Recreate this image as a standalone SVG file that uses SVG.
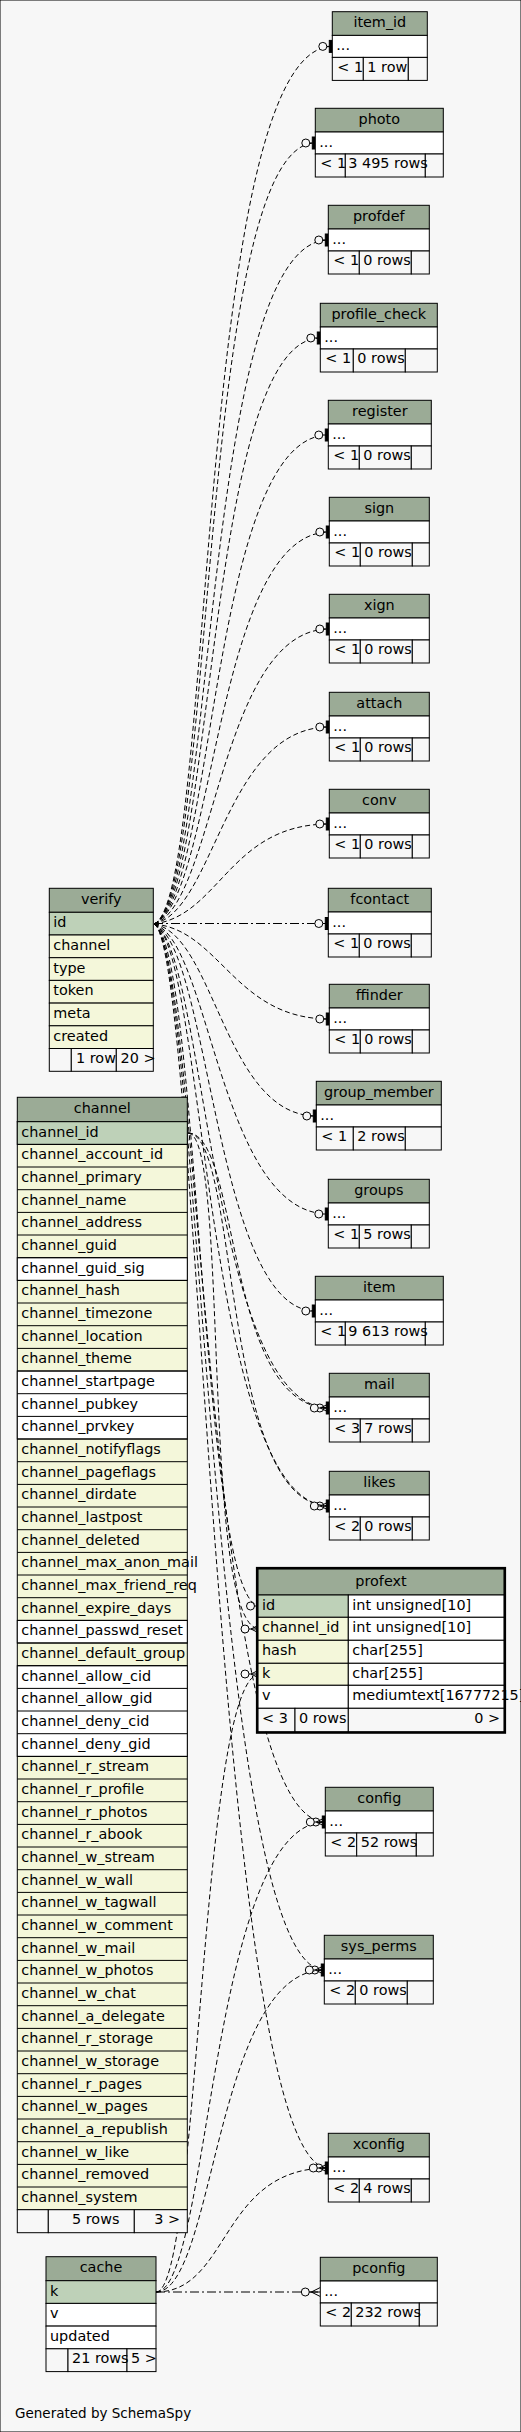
<svg xmlns="http://www.w3.org/2000/svg" width="521" height="2432" viewBox="0 0 521 2432">
<style>
text{font-family:"DejaVu Sans","Liberation Sans",sans-serif;font-size:14.4px;fill:#000}
.h{text-anchor:middle}
.e{text-anchor:end}
rect{stroke:#000;stroke-width:1}
.hd{fill:#9bab96}.pk{fill:#bed1b8}.ix{fill:#f4f7da}.pl{fill:#fff}.ft{fill:#f7f7f7}
.bold{fill:none;stroke-width:2.2}
.edge{fill:none;stroke:#000;stroke-width:1;stroke-dasharray:5,3}
.dd{fill:none;stroke:#000;stroke-width:1;stroke-dasharray:9,3,2,3}
.one{marker-end:url(#one)}.many{marker-end:url(#many)}
</style>
<defs>
<marker id="one" markerUnits="userSpaceOnUse" viewBox="-16 -8 17 16" refX="0" refY="0" markerWidth="17" markerHeight="16" orient="auto" overflow="visible">
<circle cx="-9.5" cy="0" r="4" fill="#f7f7f7" stroke="#000" stroke-width="1"/>
<line x1="-5.5" y1="0" x2="-3" y2="0" stroke="#000" stroke-width="1"/>
<rect x="-3" y="-6" width="3" height="12" fill="#000" stroke="none"/>
</marker>
<marker id="many" markerUnits="userSpaceOnUse" viewBox="-21 -8 22 16" refX="0" refY="0" markerWidth="22" markerHeight="16" orient="auto" overflow="visible">
<circle cx="-15" cy="0" r="4" fill="#f7f7f7" stroke="#000" stroke-width="1"/>
<path d="M-11,0H0M-9,0L0,-4.5M-9,0L0,4.5" fill="none" stroke="#000" stroke-width="1"/>
</marker>
</defs>
<rect x="0" y="0" width="521" height="2432" fill="#f7f7f7" stroke="none"/>

<g id="connectors">
<path class="edge one" d="M154,924 C215,900 195,46.4 332.3,46.4"/>
<path class="edge one" d="M154,924 C215,900 198,143 315.3,143"/>
<path class="edge one" d="M154,924 C215,900 202,240 328.3,240"/>
<path class="edge one" d="M154,924 C215,900 206,338 320.3,338"/>
<path class="edge one" d="M154,924 C215,900 210,435 328.3,435"/>
<path class="edge one" d="M154,924 C215,900 215,532 329.3,532"/>
<path class="edge one" d="M154,924 C215,905 220,629 329.3,629"/>
<path class="edge one" d="M154,924 C215,910 225,727 329.3,727"/>
<path class="edge one" d="M154,924 C220,915 230,824 329.3,824"/>
<path class="dd one" d="M154,923.5 L328.3,923.5"/>
<path class="edge one" d="M154,924 C220,930 235,1019 329.3,1019"/>
<path class="edge one" d="M154,924 C215,935 225,1116 316.3,1116"/>
<path class="edge one" d="M154,924 C210,940 220,1214 328.3,1214"/>
<path class="edge one" d="M154,924 C210,945 215,1311 315.3,1311"/>
<path class="edge one" d="M154,924 C205,945 210,1408 329.3,1408"/>
<path class="edge one" d="M154,924 C205,945 205,1506 329.3,1506"/>
<path class="edge one" d="M154,924 C200,945 200,1606 260,1606"/>
<path class="edge one" d="M154,924 C200,945 205,1822 325.3,1822"/>
<path class="edge one" d="M154,924 C200,945 210,1970 324.3,1970"/>
<path class="edge one" d="M154,924 C200,945 215,2168 328.3,2168"/>
<path class="edge many" d="M188,1133 C230,1133 200,1629 260,1629"/>
<path class="edge many" d="M188,1133 C240,1133 225,1408 329.3,1408"/>
<path class="edge many" d="M188,1133 C240,1133 220,1506 329.3,1506"/>
<path class="dd many" d="M156,2292 L320.3,2292"/>
<path class="edge many" d="M156,2292 C230,2292 220,2168 328.3,2168"/>
<path class="edge many" d="M156,2292 C215,2292 215,1970 324.3,1970"/>
<path class="edge many" d="M156,2292 C210,2292 210,1822 325.3,1822"/>
<path class="edge many" d="M156,2292 C200,2292 200,1674 260,1674"/>
</g>

<g id="item_id" transform="translate(332.3,11.7)">
<rect class="hd" width="95" height="23.7"/><text class="h" x="47.5" y="15.5">item_id</text>
<rect class="pl" y="23.7" width="95" height="22"/><text x="4" y="38.5">...</text>
<rect class="ft" y="45.7" width="31" height="23"/><rect class="ft" x="31" y="45.7" width="45" height="23"/><rect class="ft" x="76" y="45.7" width="19" height="23"/>
<text x="5" y="60.2">&lt; 1</text><text x="35" y="60.2">1 row</text>
</g>
<g id="photo" transform="translate(315.3,108.3)">
<rect class="hd" width="128" height="23.7"/><text class="h" x="64" y="15.5">photo</text>
<rect class="pl" y="23.7" width="128" height="22"/><text x="4" y="38.5">...</text>
<rect class="ft" y="45.7" width="30" height="23"/><rect class="ft" x="30" y="45.7" width="80" height="23"/><rect class="ft" x="110" y="45.7" width="18" height="23"/>
<text x="5" y="60.2">&lt; 1</text><text x="33" y="60.2">3 495 rows</text>
</g>
<g id="profdef" transform="translate(328.3,205.3)">
<rect class="hd" width="101" height="23.7"/><text class="h" x="50.5" y="15.5">profdef</text>
<rect class="pl" y="23.7" width="101" height="22"/><text x="4" y="38.5">...</text>
<rect class="ft" y="45.7" width="31" height="23"/><rect class="ft" x="31" y="45.7" width="52" height="23"/><rect class="ft" x="83" y="45.7" width="18" height="23"/>
<text x="5" y="60.2">&lt; 1</text><text x="35" y="60.2">0 rows</text>
</g>
<g id="profile_check" transform="translate(320.3,303.3)">
<rect class="hd" width="117" height="23.7"/><text class="h" x="58.5" y="15.5">profile_check</text>
<rect class="pl" y="23.7" width="117" height="22"/><text x="4" y="38.5">...</text>
<rect class="ft" y="45.7" width="33" height="23"/><rect class="ft" x="33" y="45.7" width="52" height="23"/><rect class="ft" x="85" y="45.7" width="32" height="23"/>
<text x="5" y="60.2">&lt; 1</text><text x="37" y="60.2">0 rows</text>
</g>
<g id="register" transform="translate(328.3,400.3)">
<rect class="hd" width="103" height="23.7"/><text class="h" x="51.5" y="15.5">register</text>
<rect class="pl" y="23.7" width="103" height="22"/><text x="4" y="38.5">...</text>
<rect class="ft" y="45.7" width="31" height="23"/><rect class="ft" x="31" y="45.7" width="52" height="23"/><rect class="ft" x="83" y="45.7" width="20" height="23"/>
<text x="5" y="60.2">&lt; 1</text><text x="35" y="60.2">0 rows</text>
</g>
<g id="sign" transform="translate(329.3,497.3)">
<rect class="hd" width="100" height="23.7"/><text class="h" x="50" y="15.5">sign</text>
<rect class="pl" y="23.7" width="100" height="22"/><text x="4" y="38.5">...</text>
<rect class="ft" y="45.7" width="31" height="23"/><rect class="ft" x="31" y="45.7" width="52" height="23"/><rect class="ft" x="83" y="45.7" width="17" height="23"/>
<text x="5" y="60.2">&lt; 1</text><text x="35" y="60.2">0 rows</text>
</g>
<g id="xign" transform="translate(329.3,594.3)">
<rect class="hd" width="100" height="23.7"/><text class="h" x="50" y="15.5">xign</text>
<rect class="pl" y="23.7" width="100" height="22"/><text x="4" y="38.5">...</text>
<rect class="ft" y="45.7" width="31" height="23"/><rect class="ft" x="31" y="45.7" width="52" height="23"/><rect class="ft" x="83" y="45.7" width="17" height="23"/>
<text x="5" y="60.2">&lt; 1</text><text x="35" y="60.2">0 rows</text>
</g>
<g id="attach" transform="translate(329.3,692.3)">
<rect class="hd" width="100" height="23.7"/><text class="h" x="50" y="15.5">attach</text>
<rect class="pl" y="23.7" width="100" height="22"/><text x="4" y="38.5">...</text>
<rect class="ft" y="45.7" width="31" height="23"/><rect class="ft" x="31" y="45.7" width="52" height="23"/><rect class="ft" x="83" y="45.7" width="17" height="23"/>
<text x="5" y="60.2">&lt; 1</text><text x="35" y="60.2">0 rows</text>
</g>
<g id="conv" transform="translate(329.3,789.3)">
<rect class="hd" width="100" height="23.7"/><text class="h" x="50" y="15.5">conv</text>
<rect class="pl" y="23.7" width="100" height="22"/><text x="4" y="38.5">...</text>
<rect class="ft" y="45.7" width="31" height="23"/><rect class="ft" x="31" y="45.7" width="52" height="23"/><rect class="ft" x="83" y="45.7" width="17" height="23"/>
<text x="5" y="60.2">&lt; 1</text><text x="35" y="60.2">0 rows</text>
</g>
<g id="fcontact" transform="translate(328.3,888.3)">
<rect class="hd" width="103" height="23.7"/><text class="h" x="51.5" y="15.5">fcontact</text>
<rect class="pl" y="23.7" width="103" height="22"/><text x="4" y="38.5">...</text>
<rect class="ft" y="45.7" width="31" height="23"/><rect class="ft" x="31" y="45.7" width="52" height="23"/><rect class="ft" x="83" y="45.7" width="20" height="23"/>
<text x="5" y="60.2">&lt; 1</text><text x="35" y="60.2">0 rows</text>
</g>
<g id="ffinder" transform="translate(329.3,984.3)">
<rect class="hd" width="100" height="23.7"/><text class="h" x="50" y="15.5">ffinder</text>
<rect class="pl" y="23.7" width="100" height="22"/><text x="4" y="38.5">...</text>
<rect class="ft" y="45.7" width="31" height="23"/><rect class="ft" x="31" y="45.7" width="52" height="23"/><rect class="ft" x="83" y="45.7" width="17" height="23"/>
<text x="5" y="60.2">&lt; 1</text><text x="35" y="60.2">0 rows</text>
</g>
<g id="group_member" transform="translate(316.3,1081.3)">
<rect class="hd" width="125" height="23.7"/><text class="h" x="62.5" y="15.5">group_member</text>
<rect class="pl" y="23.7" width="125" height="22"/><text x="4" y="38.5">...</text>
<rect class="ft" y="45.7" width="37" height="23"/><rect class="ft" x="37" y="45.7" width="52" height="23"/><rect class="ft" x="89" y="45.7" width="36" height="23"/>
<text x="5" y="60.2">&lt; 1</text><text x="41" y="60.2">2 rows</text>
</g>
<g id="groups" transform="translate(328.3,1179.3)">
<rect class="hd" width="101" height="23.7"/><text class="h" x="50.5" y="15.5">groups</text>
<rect class="pl" y="23.7" width="101" height="22"/><text x="4" y="38.5">...</text>
<rect class="ft" y="45.7" width="31" height="23"/><rect class="ft" x="31" y="45.7" width="52" height="23"/><rect class="ft" x="83" y="45.7" width="18" height="23"/>
<text x="5" y="60.2">&lt; 1</text><text x="35" y="60.2">5 rows</text>
</g>
<g id="item" transform="translate(315.3,1276.3)">
<rect class="hd" width="128" height="23.7"/><text class="h" x="64" y="15.5">item</text>
<rect class="pl" y="23.7" width="128" height="22"/><text x="4" y="38.5">...</text>
<rect class="ft" y="45.7" width="30" height="23"/><rect class="ft" x="30" y="45.7" width="80" height="23"/><rect class="ft" x="110" y="45.7" width="18" height="23"/>
<text x="5" y="60.2">&lt; 1</text><text x="33" y="60.2">9 613 rows</text>
</g>
<g id="mail" transform="translate(329.3,1373.3)">
<rect class="hd" width="100" height="23.7"/><text class="h" x="50" y="15.5">mail</text>
<rect class="pl" y="23.7" width="100" height="22"/><text x="4" y="38.5">...</text>
<rect class="ft" y="45.7" width="31" height="23"/><rect class="ft" x="31" y="45.7" width="52" height="23"/><rect class="ft" x="83" y="45.7" width="17" height="23"/>
<text x="5" y="60.2">&lt; 3</text><text x="35" y="60.2">7 rows</text>
</g>
<g id="likes" transform="translate(329.3,1471.3)">
<rect class="hd" width="100" height="23.7"/><text class="h" x="50" y="15.5">likes</text>
<rect class="pl" y="23.7" width="100" height="22"/><text x="4" y="38.5">...</text>
<rect class="ft" y="45.7" width="31" height="23"/><rect class="ft" x="31" y="45.7" width="52" height="23"/><rect class="ft" x="83" y="45.7" width="17" height="23"/>
<text x="5" y="60.2">&lt; 2</text><text x="35" y="60.2">0 rows</text>
</g>
<g id="config" transform="translate(325.3,1787.3)">
<rect class="hd" width="108" height="23.7"/><text class="h" x="54" y="15.5">config</text>
<rect class="pl" y="23.7" width="108" height="22"/><text x="4" y="38.5">...</text>
<rect class="ft" y="45.7" width="31.4" height="23"/><rect class="ft" x="31.4" y="45.7" width="59.6" height="23"/><rect class="ft" x="91" y="45.7" width="17" height="23"/>
<text x="5" y="60.2">&lt; 2</text><text x="35.5" y="60.2">52 rows</text>
</g>
<g id="sys_perms" transform="translate(324.3,1935.3)">
<rect class="hd" width="109" height="23.7"/><text class="h" x="54.5" y="15.5">sys_perms</text>
<rect class="pl" y="23.7" width="109" height="22"/><text x="4" y="38.5">...</text>
<rect class="ft" y="45.7" width="31" height="23"/><rect class="ft" x="31" y="45.7" width="52" height="23"/><rect class="ft" x="83" y="45.7" width="26" height="23"/>
<text x="5" y="60.2">&lt; 2</text><text x="35" y="60.2">0 rows</text>
</g>
<g id="xconfig" transform="translate(328.3,2133.3)">
<rect class="hd" width="101" height="23.7"/><text class="h" x="50.5" y="15.5">xconfig</text>
<rect class="pl" y="23.7" width="101" height="22"/><text x="4" y="38.5">...</text>
<rect class="ft" y="45.7" width="31" height="23"/><rect class="ft" x="31" y="45.7" width="52" height="23"/><rect class="ft" x="83" y="45.7" width="18" height="23"/>
<text x="5" y="60.2">&lt; 2</text><text x="35" y="60.2">4 rows</text>
</g>
<g id="pconfig" transform="translate(320.3,2257.3)">
<rect class="hd" width="117" height="23.7"/><text class="h" x="58.5" y="15.5">pconfig</text>
<rect class="pl" y="23.7" width="117" height="22"/><text x="4" y="38.5">...</text>
<rect class="ft" y="45.7" width="31" height="23"/><rect class="ft" x="31" y="45.7" width="68" height="23"/><rect class="ft" x="99" y="45.7" width="18" height="23"/>
<text x="5" y="60.2">&lt; 2</text><text x="35" y="60.2">232 rows</text>
</g>

<g id="verify">
<rect class="hd" x="49.3" y="888.3" width="104" height="24"/><text class="h" x="101.3" y="904">verify</text>
<rect class="pk" x="49.3" y="912.3" width="104" height="22.7"/><text x="53.3" y="927.1">id</text>
<rect class="ix" x="49.3" y="935" width="104" height="22.7"/><text x="53.3" y="949.8">channel</text>
<rect class="ix" x="49.3" y="957.7" width="104" height="22.7"/><text x="53.3" y="972.5">type</text>
<rect class="ix" x="49.3" y="980.4" width="104" height="22.7"/><text x="53.3" y="995.2">token</text>
<rect class="ix" x="49.3" y="1003.1" width="104" height="22.7"/><text x="53.3" y="1017.9">meta</text>
<rect class="ix" x="49.3" y="1025.8" width="104" height="22.7"/><text x="53.3" y="1040.6">created</text>
<rect class="ft" x="49.3" y="1048.5" width="22" height="22.8"/><rect class="ft" x="71.3" y="1048.5" width="45" height="22.8"/><rect class="ft" x="116.3" y="1048.5" width="37" height="22.8"/>
<text x="76" y="1063">1 row</text><text x="120.5" y="1063">20 &gt;</text>
</g>

<g id="channel">
<rect class="hd" x="17.3" y="1097.3" width="170" height="24.4"/><text class="h" x="102.3" y="1113">channel</text>
<rect class="ix" x="17.3" y="1121.7" width="170" height="1088"/>
<rect class="pk" x="17.3" y="1121.7" width="170" height="22.7"/>
<rect class="pl" x="17.3" y="1257.7" width="170" height="22.7"/>
<rect class="pl" x="17.3" y="1371" width="170" height="68"/>
<rect class="pl" x="17.3" y="1620.4" width="170" height="22.6"/>
<rect class="pl" x="17.3" y="1665.7" width="170" height="90.7"/>
<path d="M17.3,1144.4H187.3M17.3,1167H187.3M17.3,1189.7H187.3M17.3,1212.4H187.3M17.3,1235H187.3M17.3,1257.7H187.3M17.3,1280.4H187.3M17.3,1303H187.3M17.3,1325.7H187.3M17.3,1348.4H187.3M17.3,1371H187.3M17.3,1393.7H187.3M17.3,1416.4H187.3M17.3,1439H187.3M17.3,1461.7H187.3M17.3,1484.4H187.3M17.3,1507H187.3M17.3,1529.7H187.3M17.3,1552.4H187.3M17.3,1575H187.3M17.3,1597.7H187.3M17.3,1620.4H187.3M17.3,1643H187.3M17.3,1665.7H187.3M17.3,1688.4H187.3M17.3,1711H187.3M17.3,1733.7H187.3M17.3,1756.4H187.3M17.3,1779H187.3M17.3,1801.7H187.3M17.3,1824.4H187.3M17.3,1847H187.3M17.3,1869.7H187.3M17.3,1892.4H187.3M17.3,1915H187.3M17.3,1937.7H187.3M17.3,1960.4H187.3M17.3,1983H187.3M17.3,2005.7H187.3M17.3,2028.4H187.3M17.3,2051H187.3M17.3,2073.7H187.3M17.3,2096.4H187.3M17.3,2119H187.3M17.3,2141.7H187.3M17.3,2164.4H187.3M17.3,2187H187.3" fill="none" stroke="#000" stroke-width="1"/>
<text x="21.3" y="1136.5">channel_id</text>
<text x="21.3" y="1159.2">channel_account_id</text>
<text x="21.3" y="1181.8">channel_primary</text>
<text x="21.3" y="1204.5">channel_name</text>
<text x="21.3" y="1227.2">channel_address</text>
<text x="21.3" y="1249.8">channel_guid</text>
<text x="21.3" y="1272.5">channel_guid_sig</text>
<text x="21.3" y="1295.2">channel_hash</text>
<text x="21.3" y="1317.8">channel_timezone</text>
<text x="21.3" y="1340.5">channel_location</text>
<text x="21.3" y="1363.2">channel_theme</text>
<text x="21.3" y="1385.8">channel_startpage</text>
<text x="21.3" y="1408.5">channel_pubkey</text>
<text x="21.3" y="1431.2">channel_prvkey</text>
<text x="21.3" y="1453.8">channel_notifyflags</text>
<text x="21.3" y="1476.5">channel_pageflags</text>
<text x="21.3" y="1499.2">channel_dirdate</text>
<text x="21.3" y="1521.8">channel_lastpost</text>
<text x="21.3" y="1544.5">channel_deleted</text>
<text x="21.3" y="1567.2">channel_max_anon_mail</text>
<text x="21.3" y="1589.8">channel_max_friend_req</text>
<text x="21.3" y="1612.5">channel_expire_days</text>
<text x="21.3" y="1635.2">channel_passwd_reset</text>
<text x="21.3" y="1657.8">channel_default_group</text>
<text x="21.3" y="1680.5">channel_allow_cid</text>
<text x="21.3" y="1703.2">channel_allow_gid</text>
<text x="21.3" y="1725.8">channel_deny_cid</text>
<text x="21.3" y="1748.5">channel_deny_gid</text>
<text x="21.3" y="1771.2">channel_r_stream</text>
<text x="21.3" y="1793.8">channel_r_profile</text>
<text x="21.3" y="1816.5">channel_r_photos</text>
<text x="21.3" y="1839.2">channel_r_abook</text>
<text x="21.3" y="1861.8">channel_w_stream</text>
<text x="21.3" y="1884.5">channel_w_wall</text>
<text x="21.3" y="1907.2">channel_w_tagwall</text>
<text x="21.3" y="1929.8">channel_w_comment</text>
<text x="21.3" y="1952.5">channel_w_mail</text>
<text x="21.3" y="1975.2">channel_w_photos</text>
<text x="21.3" y="1997.8">channel_w_chat</text>
<text x="21.3" y="2020.5">channel_a_delegate</text>
<text x="21.3" y="2043.2">channel_r_storage</text>
<text x="21.3" y="2065.8">channel_w_storage</text>
<text x="21.3" y="2088.5">channel_r_pages</text>
<text x="21.3" y="2111.2">channel_w_pages</text>
<text x="21.3" y="2133.8">channel_a_republish</text>
<text x="21.3" y="2156.5">channel_w_like</text>
<text x="21.3" y="2179.2">channel_removed</text>
<text x="21.3" y="2201.8">channel_system</text>
<rect class="ft" x="17.3" y="2209.7" width="31" height="23"/><rect class="ft" x="48.3" y="2209.7" width="86" height="23"/><rect class="ft" x="134.3" y="2209.7" width="53" height="23"/>
<text x="72" y="2224.3">5 rows</text><text class="e" x="180" y="2224.3">3 &gt;</text>
</g>

<g id="profext">
<rect class="hd" x="258" y="1569" width="246" height="26"/><text class="h" x="381" y="1586">profext</text>
<rect class="pk" x="258" y="1595" width="90.3" height="22.3"/><rect class="pl" x="348.3" y="1595" width="155.7" height="22.3"/>
<rect class="ix" x="258" y="1617.3" width="90.3" height="23"/><rect class="pl" x="348.3" y="1617.3" width="155.7" height="23"/>
<rect class="ix" x="258" y="1640.3" width="90.3" height="23"/><rect class="pl" x="348.3" y="1640.3" width="155.7" height="23"/>
<rect class="ix" x="258" y="1663.3" width="90.3" height="22"/><rect class="pl" x="348.3" y="1663.3" width="155.7" height="22"/>
<rect class="pl" x="258" y="1685.3" width="90.3" height="23"/><rect class="pl" x="348.3" y="1685.3" width="155.7" height="23"/>
<rect class="ft" x="258" y="1708.3" width="37" height="23.4"/><rect class="ft" x="295" y="1708.3" width="53.3" height="23.4"/><rect class="ft" x="348.3" y="1708.3" width="155.7" height="23.4"/>
<text x="262" y="1609.8">id</text><text x="352.3" y="1609.8">int unsigned[10]</text>
<text x="262" y="1632.1">channel_id</text><text x="352.3" y="1632.1">int unsigned[10]</text>
<text x="262" y="1655.1">hash</text><text x="352.3" y="1655.1">char[255]</text>
<text x="262" y="1678.1">k</text><text x="352.3" y="1678.1">char[255]</text>
<text x="262" y="1700.1">v</text><text x="352.3" y="1700.1">mediumtext[16777215]</text>
<text x="262" y="1723">&lt; 3</text><text x="299" y="1723">0 rows</text><text class="e" x="500" y="1723">0 &gt;</text>
<rect class="bold" x="257" y="1568" width="248" height="164.7"/>
</g>

<g id="cache">
<rect class="hd" x="46" y="2256.7" width="110" height="24"/><text class="h" x="101" y="2272.3">cache</text>
<rect class="pk" x="46" y="2280.7" width="110" height="22.7"/><text x="50" y="2295.5">k</text>
<rect class="pl" x="46" y="2303.4" width="110" height="22.7"/><text x="50" y="2318.2">v</text>
<rect class="pl" x="46" y="2326.1" width="110" height="22.7"/><text x="50" y="2340.9">updated</text>
<rect class="ft" x="46" y="2348.8" width="22" height="22.8"/><rect class="ft" x="68" y="2348.8" width="59" height="22.8"/><rect class="ft" x="127" y="2348.8" width="29" height="22.8"/>
<text x="72" y="2363.3">21 rows</text><text x="131" y="2363.3">5 &gt;</text>
</g>

<text x="15" y="2418" style="font-size:13.5px">Generated by SchemaSpy</text>
</svg>
